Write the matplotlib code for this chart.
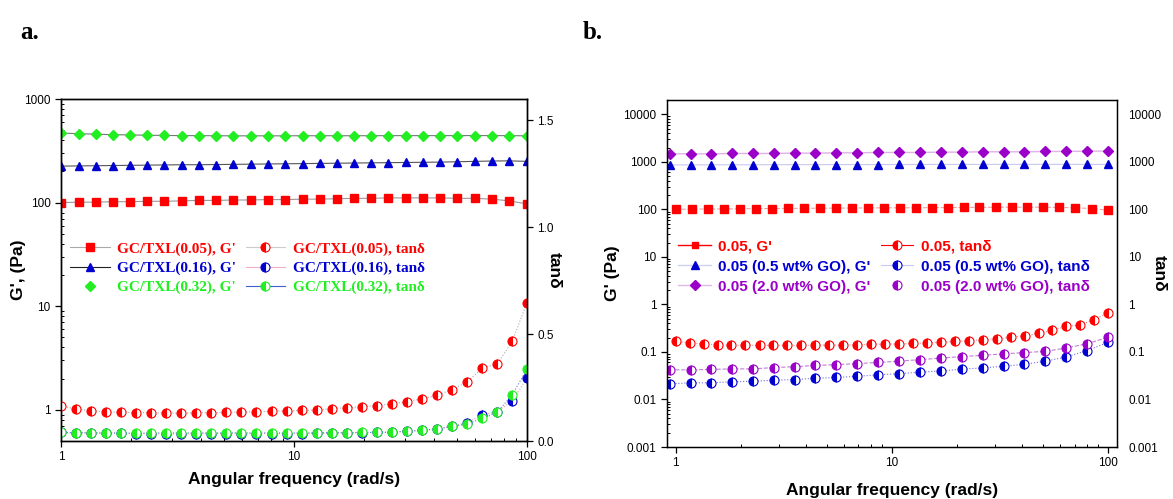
import numpy as np
import matplotlib
matplotlib.use("Agg")
from matplotlib import pyplot as plt
from matplotlib.lines import Line2D
from matplotlib.ticker import LogLocator, NullFormatter, FixedLocator, FixedFormatter

plt.rcParams['font.family'] = ['Liberation Sans', 'DejaVu Sans']

RED = '#ff0000'
BLUE = '#0000d0'
GREEN = '#22ee22'
PURPLE = '#9a00c8'

# ---- panel a data ----
freq_g = [1, 1.19, 1.41, 1.67, 1.98, 2.34, 2.78, 3.30, 3.91, 4.63, 5.49, 6.51, 7.72, 9.16,
          10.9, 12.9, 15.3, 18.1, 21.5, 25.4, 30.2, 35.8, 42.4, 50.3, 59.6, 70.7, 83.9, 100]
freq_t = [1, 1.16, 1.35, 1.56, 1.81, 2.10, 2.44, 2.83, 3.28, 3.81, 4.42, 5.13, 5.95, 6.90,
          8.01, 9.29, 10.8, 12.5, 14.5, 16.8, 19.5, 22.7, 26.3, 30.5, 35.4, 41.1, 47.7, 55.3,
          64.2, 74.4, 86.4, 100]

a_g_005 = [100, 101, 101, 102, 102, 103, 103, 104, 105, 105, 106, 106, 107, 107,
           108, 108, 109, 110, 110, 111, 111, 111, 111, 110, 110, 108, 104, 97]
a_g_016 = [225, 226, 227, 228, 229, 230, 231, 232, 232, 233, 234, 235, 236, 237,
           238, 239, 240, 241, 242, 243, 244, 245, 246, 248, 250, 252, 253, 250]
a_g_032 = [470, 462, 458, 452, 450, 447, 445, 443, 443, 442, 441, 441, 441, 441,
           442, 442, 442, 442, 442, 443, 443, 443, 443, 443, 444, 443, 443, 441]

a_t_005 = [0.164, 0.150, 0.141, 0.137, 0.134, 0.133, 0.132, 0.131, 0.131, 0.132, 0.133,
           0.134, 0.135, 0.137, 0.139, 0.141, 0.143, 0.146, 0.151, 0.156, 0.160, 0.166,
           0.174, 0.184, 0.197, 0.214, 0.240, 0.277, 0.340, 0.360, 0.466, 0.648]
a_t_016 = [0.040, 0.039, 0.038, 0.037, 0.036, 0.035, 0.034, 0.034, 0.034, 0.034, 0.034,
           0.034, 0.034, 0.035, 0.035, 0.035, 0.035, 0.036, 0.037, 0.038, 0.039, 0.040,
           0.041, 0.046, 0.050, 0.056, 0.070, 0.086, 0.122, 0.137, 0.187, 0.294]
a_t_032 = [0.040, 0.039, 0.038, 0.038, 0.037, 0.037, 0.037, 0.038, 0.038, 0.038, 0.038,
           0.038, 0.038, 0.038, 0.038, 0.038, 0.038, 0.038, 0.039, 0.039, 0.040, 0.040,
           0.041, 0.046, 0.050, 0.056, 0.068, 0.080, 0.106, 0.134, 0.216, 0.336]

# ---- panel b data ----
freq_go = [0.935, 1.17, 1.46, 1.82, 2.27, 2.84, 3.55, 4.43, 5.54, 6.92, 8.64,
           10.8, 13.5, 16.8, 21.0, 26.3, 32.9, 41.0, 51.3, 64.1, 80.0, 100]

b_g_005 = [100, 101, 102, 102, 103, 104, 104, 105, 105, 106, 106, 107, 107, 108,
           108, 108, 109, 109, 110, 110, 111, 111, 111, 111, 110, 108, 104, 96]
b_g_05go = [860, 862, 865, 866, 868, 870, 872, 873, 875, 876, 878,
            879, 880, 881, 882, 883, 884, 884, 885, 885, 884, 880]
b_g_20go = [1476, 1476, 1476, 1500, 1500, 1500, 1525, 1525, 1549, 1549, 1575,
            1575, 1575, 1600, 1600, 1627, 1627, 1627, 1653, 1653, 1680, 1680]

b_t_005 = [0.167, 0.155, 0.147, 0.142, 0.139, 0.138, 0.137, 0.137, 0.137, 0.138, 0.138,
           0.139, 0.140, 0.142, 0.144, 0.146, 0.148, 0.151, 0.155, 0.160, 0.166, 0.172,
           0.180, 0.190, 0.202, 0.218, 0.245, 0.285, 0.345, 0.370, 0.480, 0.667]
b_t_05go = [0.0213, 0.0224, 0.0224, 0.0235, 0.0242, 0.0254, 0.0263, 0.0280, 0.0290, 0.0308, 0.0330,
            0.0350, 0.0374, 0.0400, 0.0433, 0.0462, 0.0500, 0.0550, 0.0637, 0.0786, 0.107, 0.159]
b_t_20go = [0.042, 0.042, 0.043, 0.044, 0.044, 0.047, 0.049, 0.052, 0.054, 0.057, 0.060,
            0.064, 0.069, 0.074, 0.080, 0.085, 0.091, 0.097, 0.103, 0.121, 0.149, 0.203]

fig = plt.figure(figsize=(11.73, 4.99), dpi=100)

tick_fs = 8.5
lab_fs = 12.5


def half_circle(color, line_color, ls):
    return dict(marker='o', markersize=6.5, fillstyle='left', markerfacecolor=color,
                markerfacecoloralt='white', markeredgecolor=color, markeredgewidth=0.8,
                color=line_color, lw=0.8, ls=ls)


def style_axis(ax):
    ax.tick_params(which='major', direction='out', length=4, width=0.9, labelsize=tick_fs)
    ax.tick_params(which='minor', direction='in', length=2.5, width=0.7)
    for s in ax.spines.values():
        s.set_linewidth(1.0)


# ================= panel a =================
ax1 = fig.add_axes([0.052, 0.1162, 0.3973, 0.6854])
ax1.set_xscale('log')
ax1.set_yscale('log')
ms = dict(markersize=6, lw=0.8)
ax1.plot(freq_g, a_g_005, marker='s', color='#999999', mfc=RED, mec=RED, **ms)
ax1.plot(freq_g, a_g_016, marker='^', color='#555555', mfc=BLUE, mec=BLUE, **ms)
ax1.plot(freq_g, a_g_032, marker='D', color='#777777', mfc=GREEN, mec=GREEN,
         markersize=5.5, lw=0.8)
ax1.set_xlim(1, 100)
ax1.set_ylim(0.5, 1000)
ax1.set_xticks([1, 10, 100])
ax1.set_xticklabels(['1', '10', '100'])
ax1.xaxis.set_minor_locator(LogLocator(base=10, subs=np.arange(2, 10)))
ax1.xaxis.set_minor_formatter(NullFormatter())
ax1.set_yticks([1, 10, 100, 1000])
ax1.set_yticklabels(['1', '10', '100', '1000'])
ax1.yaxis.set_minor_locator(LogLocator(base=10, subs=np.arange(2, 10)))
ax1.yaxis.set_minor_formatter(NullFormatter())
style_axis(ax1)
ax1.set_xlabel('Angular frequency (rad/s)', fontsize=lab_fs, fontweight='bold', labelpad=6)
ax1.set_ylabel("G', (Pa)", fontsize=lab_fs, fontweight='bold')
ax1.yaxis.set_label_coords(-0.075, 0.5)

ax1r = ax1.twinx()
ax1r.plot(freq_t, a_t_005, **half_circle(RED, '#aaaaaa', ':'))
ax1r.plot(freq_t, a_t_016, **half_circle(BLUE, '#f0a0b0', ':'))
ax1r.plot(freq_t, a_t_032, **half_circle(GREEN, '#6080e0', ':'))
ax1r.set_ylim(0, 1.6)
ax1r.set_yticks([0.0, 0.5, 1.0, 1.5])
ax1r.set_yticklabels(['0.0', '0.5', '1.0', '1.5'])
style_axis(ax1r)
ax1r.set_ylabel('tanδ', fontsize=lab_fs, fontweight='bold', rotation=270)
ax1r.yaxis.set_label_coords(1.075, 0.5)

serif = ['Liberation Serif', 'DejaVu Serif']
h_a = [
    Line2D([], [], marker='s', color='#aaaaaa', mfc=RED, mec=RED, markersize=6, lw=0.8),
    Line2D([], [], marker='^', color='#222222', mfc=BLUE, mec=BLUE, markersize=6, lw=0.8),
    Line2D([], [], marker='D', color='white', mfc=GREEN, mec=GREEN, markersize=5.5, lw=0.8),
    Line2D([], [], **half_circle(RED, '#cccccc', '-')),
    Line2D([], [], **half_circle(BLUE, '#f0b0c0', '-')),
    Line2D([], [], **half_circle(GREEN, '#4060d0', '-')),
]
lab_a = ["GC/TXL(0.05), G'", "GC/TXL(0.16), G'", "GC/TXL(0.32), G'",
         "GC/TXL(0.05), tanδ", "GC/TXL(0.16), tanδ", "GC/TXL(0.32), tanδ"]
leg = ax1r.legend(h_a, lab_a, ncol=2, loc='center left', bbox_to_anchor=(-0.01, 0.505),
                  frameon=False, handlelength=2.6, handletextpad=0.5, columnspacing=0.6,
                  labelspacing=0.35, prop=dict(family=serif, weight='bold', size=11))
for t, c in zip(leg.get_texts(), [RED, BLUE, GREEN, RED, BLUE, GREEN]):
    t.set_color(c)

fig.text(0.017, 0.935, 'a.', family=serif, weight='bold', fontsize=18, va='center')

# ================= panel b =================
ax2 = fig.add_axes([0.5686, 0.1042, 0.3836, 0.6954])
ax2.set_xscale('log')
ax2.set_yscale('log')
ax2.plot(freq_g, b_g_005, marker='s', color='#f5a0a0', mfc=RED, mec=RED, ls='--', **ms)
ax2.plot(freq_go, b_g_05go, marker='^', color='#c8c8f0', mfc=BLUE, mec=BLUE, **ms)
ax2.plot(freq_go, b_g_20go, marker='D', color='#e0b0e8', mfc=PURPLE, mec=PURPLE,
         markersize=5.5, lw=1.0)
ax2.plot(freq_t, b_t_005, **half_circle(RED, '#f09090', ':'))
ax2.plot(freq_go, b_t_05go, **half_circle(BLUE, '#7070e0', ':'))
ax2.plot(freq_go, b_t_20go, **half_circle(PURPLE, '#c080d0', '--'))
ax2.set_xlim(0.91, 110)
ax2.set_ylim(0.001, 20000)
ax2.set_xticks([1, 10, 100])
ax2.set_xticklabels(['1', '10', '100'])
ax2.xaxis.set_minor_locator(LogLocator(base=10, subs=np.arange(2, 10)))
ax2.xaxis.set_minor_formatter(NullFormatter())
yt = [0.001, 0.01, 0.1, 1, 10, 100, 1000, 10000]
ylab = ['0.001', '0.01', '0.1', '1', '10', '100', '1000', '10000']
ax2.set_yticks(yt)
ax2.set_yticklabels(ylab)
ax2.yaxis.set_minor_locator(LogLocator(base=10, subs=np.arange(2, 10)))
ax2.yaxis.set_minor_formatter(NullFormatter())
style_axis(ax2)
ax2.set_xlabel('Angular frequency (rad/s)', fontsize=lab_fs, fontweight='bold', labelpad=10)
ax2.set_ylabel("G' (Pa)", fontsize=lab_fs, fontweight='bold')
ax2.yaxis.set_label_coords(-0.105, 0.5)

ax2r = ax2.twinx()
ax2r.set_yscale('log')
ax2r.set_ylim(0.001, 20000)
ax2r.yaxis.set_major_locator(FixedLocator(yt))
ax2r.yaxis.set_major_formatter(FixedFormatter(ylab))
ax2r.yaxis.set_minor_formatter(NullFormatter())
ax2r.tick_params(which='both', length=0, labelsize=tick_fs, pad=8)
ax2r.set_ylabel('tanδ', fontsize=lab_fs, fontweight='bold', rotation=270)
ax2r.yaxis.set_label_coords(1.11, 0.5)

h_b = [
    Line2D([], [], marker='s', color=RED, mfc=RED, mec=RED, markersize=5, lw=1.0),
    Line2D([], [], marker='^', color='#d0d0f0', mfc=BLUE, mec=BLUE, markersize=6, lw=1.0),
    Line2D([], [], marker='D', color='#e0b8e8', mfc=PURPLE, mec=PURPLE, markersize=5.5, lw=1.0),
    Line2D([], [], **half_circle(RED, RED, '-')),
    Line2D([], [], **half_circle(BLUE, '#c8c8f0', '-')),
    Line2D([], [], **half_circle(PURPLE, 'white', '-')),
]
lab_b = ["0.05, G'", "0.05 (0.5 wt% GO), G'", "0.05 (2.0 wt% GO), G'",
         "0.05, tanδ", "0.05 (0.5 wt% GO), tanδ", "0.05 (2.0 wt% GO), tanδ"]
leg2 = ax2r.legend(h_b, lab_b, ncol=2, loc='center left', bbox_to_anchor=(-0.005, 0.52),
                   frameon=False, handlelength=2.1, handletextpad=0.5, columnspacing=0.7,
                   labelspacing=0.4, prop=dict(weight='bold', size=11))
for t, c in zip(leg2.get_texts(), [RED, BLUE, PURPLE, RED, BLUE, PURPLE]):
    t.set_color(c)

fig.text(0.497, 0.935, 'b.', family=serif, weight='bold', fontsize=18, va='center')

fig.savefig('out.png', dpi=100)
